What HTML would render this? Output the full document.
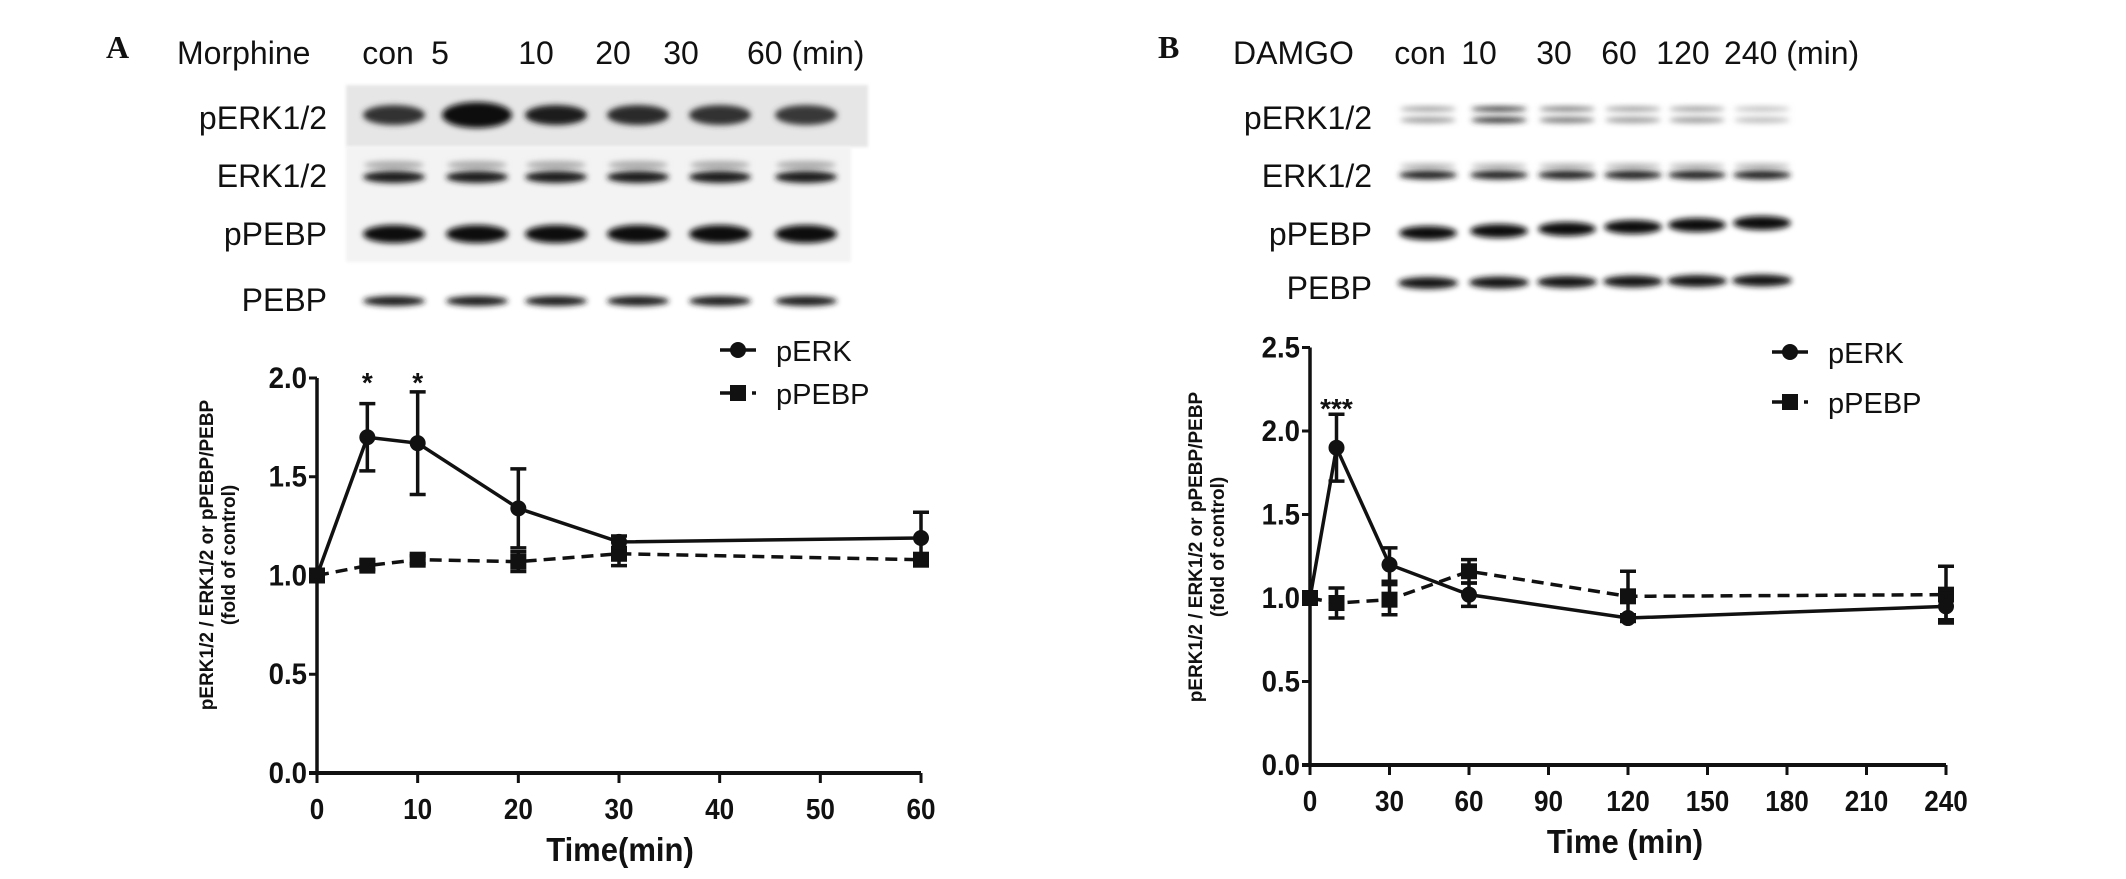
<!DOCTYPE html>
<html><head><meta charset="utf-8"><style>
html,body{margin:0;padding:0;background:#fff}
svg{display:block}
text{font-family:"Liberation Sans",Arial,sans-serif;fill:#111}
</style></head><body>
<svg id="fig" width="2126" height="879" viewBox="0 0 2126 879">
<defs>
<filter id="blur" x="-20%" y="-100%" width="140%" height="300%"><feGaussianBlur stdDeviation="3"/></filter>
<filter id="blur2"><feGaussianBlur stdDeviation="1.5"/></filter>
</defs>
<g id="blots"></g>
<g id="chartA"></g>
<g id="chartB"></g>
</svg>
<script>
// Panel A data (Morphine)
const timesA = [0, 5, 10, 20, 30, 60];
const erkA = [1.00, 1.70, 1.67, 1.34, 1.17, 1.19];
const erkErrA = [0.00, 0.17, 0.26, 0.20, 0.03, 0.13];
const pebpA = [1.00, 1.05, 1.08, 1.07, 1.11, 1.08];
const pebpErrA = [0.00, 0.02, 0.02, 0.05, 0.06, 0.02];
const xTicksA = [0, 10, 20, 30, 40, 50, 60];
// Panel B data (DAMGO)
const timesB = [0, 10, 30, 60, 120, 240];
const erkB = [1.00, 1.90, 1.20, 1.02, 0.88, 0.95];
const erkErrB = [0.00, 0.20, 0.10, 0.07, 0.02, 0.08];
const pebpB = [1.00, 0.97, 0.99, 1.16, 1.01, 1.02];
const pebpErrB = [0.00, 0.09, 0.09, 0.07, 0.15, 0.17];
const xTicksB = [0, 30, 60, 90, 120, 150, 180, 210, 240];
const yTicksA = [0.0, 0.5, 1.0, 1.5, 2.0];
const yTicksB = [0.0, 0.5, 1.0, 1.5, 2.0, 2.5];
const lanesA = ["con", "5", "10", "20", "30", "60 (min)"];
const lanesB = ["con", "10", "30", "60", "120", "240 (min)"];
const rowLabels = ["pERK1/2", "ERK1/2", "pPEBP", "PEBP"];

const NS = "http://www.w3.org/2000/svg";
function mk(parent, tag, attrs, txt) {
  const e = document.createElementNS(NS, tag);
  for (const k in attrs) e.setAttribute(k, attrs[k]);
  if (txt !== undefined) e.textContent = txt;
  parent.appendChild(e);
  return e;
}

// ---------- Blots ----------
const blots = document.getElementById("blots");
function label(x, y, s, anchor, name) {
  const t = mk(blots, "text", {x: x, y: y, "font-size": 32, "text-anchor": anchor || "start"}, s);
  
  
}
let L = mk(blots, "text", {x: 106, y: 58, "font-size": 32, "font-weight": "bold", style: "font-family:'Liberation Serif',serif"}, "A");


L = mk(blots, "text", {x: 1158, y: 58, "font-size": 32, "font-weight": "bold", style: "font-family:'Liberation Serif',serif"}, "B");



label(177, 64, "Morphine", "start", "treatment-label-morphine");
label(1233, 64, "DAMGO", "start", "treatment-label-damgo");
const laneXA = [394, 477, 556, 638, 720, 806];
const laneXB = [1428, 1499, 1567, 1633, 1697, 1762];
const labXA = [388, 440, 536, 613, 681, 747];
const labXB = [1420, 1479, 1554, 1619, 1683, 1724];
lanesA.forEach((s, i) => label(labXA[i], 64, s, i === 5 ? "start" : "middle", "lane-label-a"));
lanesB.forEach((s, i) => label(labXB[i], 64, s, i === 5 ? "start" : "middle", "lane-label-b"));
const rowYA = [129, 187, 245, 311];
const rowYB = [129, 187, 245, 299];
rowLabels.forEach((s, i) => label(327, rowYA[i], s, "end", "row-label-a"));
rowLabels.forEach((s, i) => label(1372, rowYB[i], s, "end", "row-label-b"));

let bg = mk(blots, "rect", {x: 346, y: 85, width: 522, height: 62, fill: "#e6e6e6", filter: "url(#blur2)"});


bg = mk(blots, "rect", {x: 346, y: 147, width: 505, height: 115, fill: "#f3f3f3", filter: "url(#blur2)"});



function band(x, y, w, h, c, name) {
  const e = mk(blots, "ellipse", {cx: x, cy: y, rx: w / 2, ry: h / 2, fill: c, filter: "url(#blur)"});
  
  
}
const perkIntA = ["#333", "#111", "#1a1a1a", "#2a2a2a", "#333", "#383838"];
laneXA.forEach((x, i) => {
  band(x, 115, i === 1 ? 70 : 62, i === 1 ? 26 : 20, perkIntA[i], "band-perk-a");
  band(x, 165, 60, 8, "#aaa", "band-erk-upper-a");
  band(x, 177, 62, 12, "#1a1a1a", "band-erk-a");
  band(x, 234, 62, 18, "#111", "band-ppebp-a");
  band(x, 301, 62, 10, "#1a1a1a", "band-pebp-a");
});
const perkIntB = ["#999", "#333", "#777", "#999", "#999", "#bbb"];
laneXB.forEach((x, i) => {
  band(x, 109, 56, 5, perkIntB[i], "band-perk-upper-b");
  band(x, 120, 56, 6, perkIntB[i], "band-perk-b");
  band(x, 166, 56, 5, "#aaa", "band-erk-upper-b");
  band(x, 175, 58, 9, "#222", "band-erk-b");
  band(x, 233 - i * 2, 58, 14, "#111", "band-ppebp-b");
  band(x, 283 - i * 0.5, 60, 12, "#151515", "band-pebp-b");
});

// ---------- Charts ----------
function chart(gid, cfg) {
  const g = document.getElementById(gid);
  const sx = v => cfg.x0 + (v - cfg.xmin) / (cfg.xmax - cfg.xmin) * (cfg.x1 - cfg.x0);
  const sy = v => cfg.y0 - v * cfg.ppu;
  const yTop = sy(cfg.yTicks[cfg.yTicks.length - 1]);
  let a = mk(g, "line", {x1: cfg.x0, y1: yTop, x2: cfg.x0, y2: cfg.y0, stroke: "#111", "stroke-width": 3.5});
  
  
  a = mk(g, "line", {x1: cfg.x0 - 8, y1: cfg.y0, x2: sx(cfg.xmax), y2: cfg.y0, stroke: "#111", "stroke-width": 4});
  
  
  cfg.yTicks.forEach(v => {
    const y = sy(v);
    const t = mk(g, "line", {x1: cfg.x0 - 8, y1: y, x2: cfg.x0, y2: y, stroke: "#111", "stroke-width": 3});
    
    
    const lx = cfg.x0 - 10;
    const l = mk(g, "text", {x: lx, y: y + 10, "font-size": 30, "font-weight": "bold", "text-anchor": "end",
      transform: "translate(" + lx + " 0) scale(0.92 1) translate(" + (-lx) + " 0)"}, v.toFixed(1));
    
    
  });
  cfg.xTicks.forEach(v => {
    const x = sx(v);
    const t = mk(g, "line", {x1: x, y1: cfg.y0, x2: x, y2: cfg.y0 + 10, stroke: "#111", "stroke-width": 3});
    
    
    const l = mk(g, "text", {x: x, y: cfg.y0 + 46, "font-size": 29, "font-weight": "bold", "text-anchor": "middle",
      transform: "translate(" + x + " 0) scale(0.9 1) translate(" + (-x) + " 0)"}, String(v));
    
    
  });
  let tt = mk(g, "text", {x: cfg.titleX, y: cfg.y0 + 88, "font-size": 33, "font-weight": "bold", "text-anchor": "middle",
    transform: "translate(" + cfg.titleX + " 0) scale(0.94 1) translate(" + (-cfg.titleX) + " 0)"}, cfg.title);
  
  
  const cy = cfg.labY;
  tt = mk(g, "text", {x: 0, y: 0, "font-size": 19, "font-weight": "bold", "text-anchor": "middle",
    transform: "translate(" + cfg.labX + " " + cy + ") rotate(-90)"}, "pERK1/2 / ERK1/2 or pPEBP/PEBP");
  
  
  tt = mk(g, "text", {x: 0, y: 0, "font-size": 19, "font-weight": "bold", "text-anchor": "middle",
    transform: "translate(" + (cfg.labX + 22) + " " + cy + ") rotate(-90)"}, "(fold of control)");
  
  

  function series(xs, ys, es, dashed, marker, name) {
    const pts = xs.map((x, i) => sx(x) + "," + sy(ys[i])).join(" ");
    const pl = mk(g, "polyline", {points: pts, fill: "none", stroke: "#111", "stroke-width": 3.5,
      "stroke-dasharray": dashed ? "12 7" : "none"});
    
    
    xs.forEach((x, i) => {
      const px = sx(x), py = sy(ys[i]);
      if (es[i] > 0) {
        const top = sy(ys[i] + es[i]), bot = sy(ys[i] - es[i]);
        const eb = mk(g, "path", {d: "M" + px + "," + top + "V" + bot + "M" + (px - 8) + "," + top + "H" + (px + 8) + "M" + (px - 8) + "," + bot + "H" + (px + 8),
          stroke: "#111", "stroke-width": 3.5, fill: "none"});
        
        
      }
      let m;
      if (marker === "circle") m = mk(g, "circle", {cx: px, cy: py, r: 8, fill: "#111"});
      else m = mk(g, "rect", {x: px - 8, y: py - 8, width: 16, height: 16, fill: "#111"});
      
      
    });
  }
  series(cfg.times, cfg.pebp, cfg.pebpErr, true, "square", "ppebp");
  series(cfg.times, cfg.erk, cfg.erkErr, false, "circle", "perk");

  cfg.stars.forEach(s => {
    const st = mk(g, "text", {x: sx(s[0]), y: s[1], "font-size": 28, "font-weight": "bold", "text-anchor": "middle"}, s[2]);
    
    
  });
  const lx = cfg.legX;
  let l1 = mk(g, "line", {x1: lx, y1: cfg.legY1, x2: lx + 36, y2: cfg.legY1, stroke: "#111", "stroke-width": 3.5});
  
  
  l1 = mk(g, "circle", {cx: lx + 18, cy: cfg.legY1, r: 8, fill: "#111"});
  
  
  const tx = lx + 56;
  l1 = mk(g, "text", {x: tx, y: cfg.legY1 + 11, "font-size": 29}, "pERK");
  
  
  l1 = mk(g, "line", {x1: lx, y1: cfg.legY2, x2: lx + 36, y2: cfg.legY2, stroke: "#111", "stroke-width": 3.5, "stroke-dasharray": "10 6"});
  
  
  l1 = mk(g, "rect", {x: lx + 10, y: cfg.legY2 - 8, width: 16, height: 16, fill: "#111"});
  
  
  l1 = mk(g, "text", {x: tx, y: cfg.legY2 + 11, "font-size": 29}, "pPEBP");
  
  
}

chart("chartA", {x0: 317, x1: 921, xmin: 0, xmax: 60, y0: 773, ppu: 197.5,
  times: timesA, erk: erkA, erkErr: erkErrA, pebp: pebpA, pebpErr: pebpErrA,
  xTicks: xTicksA, yTicks: yTicksA, title: "Time(min)", titleX: 620, labX: 213, labY: 555,
  stars: [[5, 392, "*"], [10, 392, "*"]], legX: 720, legY1: 350, legY2: 393});
chart("chartB", {x0: 1310, x1: 1946, xmin: 0, xmax: 240, y0: 765, ppu: 167,
  times: timesB, erk: erkB, erkErr: erkErrB, pebp: pebpB, pebpErr: pebpErrB,
  xTicks: xTicksB, yTicks: yTicksB, title: "Time (min)", titleX: 1625, labX: 1202, labY: 547,
  stars: [[10, 418, "***"]], legX: 1772, legY1: 352, legY2: 402});
</script>
</body></html>
